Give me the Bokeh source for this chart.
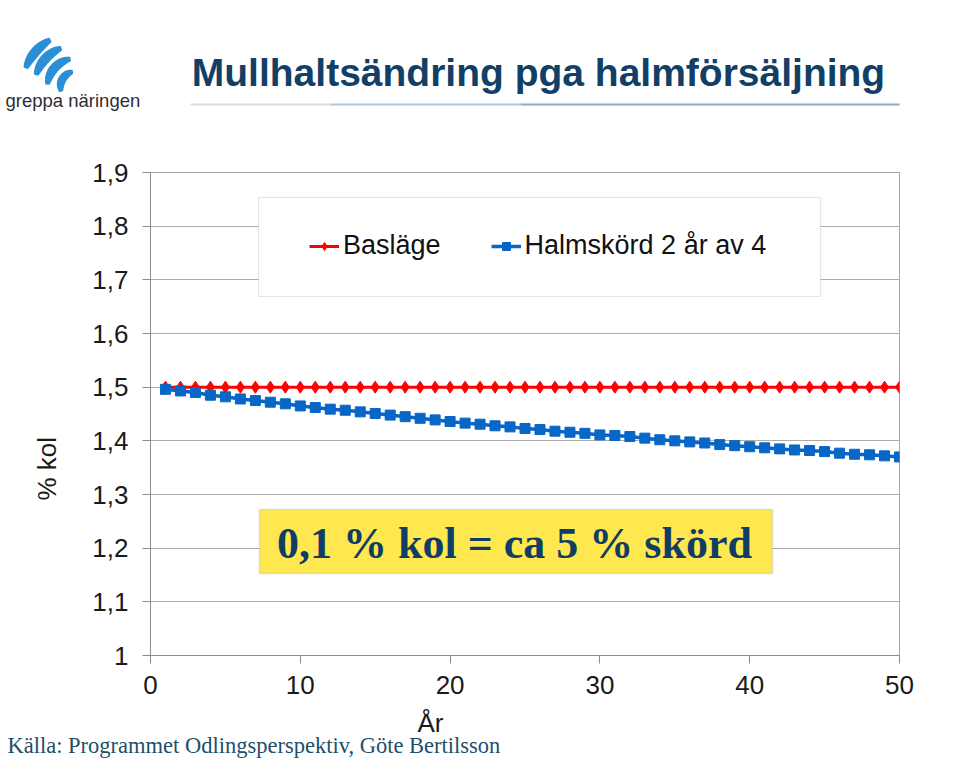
import numpy as np
from bokeh.plotting import figure
from bokeh.layouts import column
from bokeh.models import (Range1d, FixedTicker, Label, BoxAnnotation, Title,
                          Legend, LegendItem)
from bokeh.embed import file_html
from bokeh.resources import INLINE

# ---------------- data ----------------
years = list(range(1, 51))
baslage = [1.5] * 50
halmskord = [1.496, 1.493, 1.490, 1.485, 1.482, 1.478, 1.475, 1.472, 1.469, 1.465,
             1.462, 1.459, 1.457, 1.454, 1.451, 1.448, 1.445, 1.442, 1.439, 1.436,
             1.433, 1.431, 1.428, 1.426, 1.423, 1.421, 1.418, 1.416, 1.414, 1.411,
             1.410, 1.408, 1.405, 1.402, 1.400, 1.398, 1.396, 1.393, 1.391, 1.389,
             1.387, 1.385, 1.383, 1.382, 1.380, 1.377, 1.375, 1.374, 1.372, 1.370]
series_names = ["Basläge", "Halmskörd 2 år av 4"]
y_ticks = [1.0, 1.1, 1.2, 1.3, 1.4, 1.5, 1.6, 1.7, 1.8, 1.9]
y_tick_labels = ["1", "1,1", "1,2", "1,3", "1,4", "1,5", "1,6", "1,7", "1,8", "1,9"]
x_ticks = [0, 10, 20, 30, 40, 50]
x_tick_labels = ["0", "10", "20", "30", "40", "50"]

title_text = "Mullhaltsändring pga halmförsäljning"
note_text = "0,1 % kol = ca 5 % skörd"
source_text = "Källa: Programmet Odlingsperspektiv, Göte Bertilsson"
logo_text = "greppa näringen"
x_label = "År"
y_label = "% kol"

# ---------------- layout ----------------
W, H = 959, 762
HEAD = 130                      # header strip (title + logo)
FOOT_TOP = 707                  # footer strip (x title + source) starts here
FL, FR, FT, FB = 150, 899, 172, 655   # frame edges in page pixels
X0, X1, Y0, Y1 = 0, 50, 1.0, 1.9


def px2x(px):
    return X0 + (px - FL) / (FR - FL) * (X1 - X0)


def py2y(py):
    return Y0 + (FB - py) / (FB - FT) * (Y1 - Y0)


def pixel_strip(h):
    f = figure(width=W, height=h, output_backend="svg", toolbar_location=None,
               x_range=Range1d(0, W), y_range=Range1d(h, 0),
               x_axis_location=None, y_axis_location=None,
               min_border=0, min_border_left=0, min_border_right=0,
               min_border_top=0, min_border_bottom=0)
    f.grid.visible = False
    f.outline_line_color = None
    f.background_fill_color = "white"
    f.border_fill_color = "white"
    return f


# ---------- header ----------
hd = pixel_strip(HEAD)
hd.add_layout(Label(x=538, y=72, text=title_text, text_align="center",
                    text_baseline="middle", text_font="Liberation Sans",
                    text_font_style="bold", text_font_size="39px", text_color="#123F66"))
segs = [(190, 330, "#D5DEE6"), (330, 520, "#B4C5D3"), (520, 899, "#8FA9BE")]
for x_a, x_b, c in segs:
    hd.line([x_a, x_b], [104, 104], line_color=c, line_width=2)

hd.add_layout(Label(x=5, y=100, text=logo_text, text_align="left",
                    text_baseline="middle", text_font="Liberation Sans",
                    text_font_size="18.5px", text_color="#2E2E2E"))
cx, cy = 75, 86
xs_all, ys_all = [], []
for r, a0, a1, th in ((53, 118, 160, 10), (41, 110, 164, 10), (28, 100, 176, 9.5), (15, 100, 200, 8.5)):
    ang = np.radians(np.linspace(a0, a1, 30))
    taper = np.sin(np.linspace(0.2, np.pi - 0.2, 30)) ** 0.5
    ro = r + th / 2 * taper
    ri = r - th / 2 * taper
    xs_all.append(list(np.concatenate([cx + ro * np.cos(ang), (cx + ri * np.cos(ang))[::-1]])))
    ys_all.append(list(np.concatenate([cy - ro * np.sin(ang), (cy - ri * np.sin(ang))[::-1]])))
hd.patches(xs_all, ys_all, fill_color="#2A8FD4", line_color=None)

# ---------- footer ----------
FH = H - FOOT_TOP
ft = pixel_strip(FH)
ft.add_layout(Label(x=430, y=722 - FOOT_TOP, text=x_label, text_align="center",
                    text_baseline="middle", text_font="Liberation Sans",
                    text_font_size="26px", text_color="#1a1a1a"))
ft.add_layout(Label(x=7, y=745 - FOOT_TOP, text=source_text, text_align="left",
                    text_baseline="middle", text_font="Liberation Serif",
                    text_font_size="22.5px", text_color="#1E4F6A"))

# ---------- main chart ----------
MH = FOOT_TOP - HEAD
p = figure(width=W, height=MH, output_backend="svg", toolbar_location=None,
           x_range=Range1d(X0, X1), y_range=Range1d(Y0, Y1),
           min_border_left=FL, min_border_right=W - FR,
           min_border_top=FT - HEAD, min_border_bottom=FOOT_TOP - FB)
p.background_fill_color = "white"
p.border_fill_color = "white"
p.outline_line_color = "#A6A6A6"
p.outline_line_width = 1

for fig in (hd, p, ft):
    if "frame_align" in fig.properties():
        fig.frame_align = False

AX = "#8C8C8C"
for ax, ticks, labels in ((p.yaxis[0], y_ticks, y_tick_labels), (p.xaxis[0], x_ticks, x_tick_labels)):
    ax.ticker = FixedTicker(ticks=ticks)
    ax.major_label_overrides = {t: l for t, l in zip(ticks, labels)}
    ax.axis_line_color = AX
    ax.major_tick_line_color = AX
    ax.major_tick_out = 8
    ax.major_tick_in = 0
    ax.minor_tick_line_color = None
    ax.major_label_text_font = "Liberation Sans"
    ax.major_label_text_font_size = "26px"
    ax.major_label_text_color = "#1a1a1a"
p.yaxis.major_label_standoff = 14
p.xaxis.major_label_standoff = 12

p.xgrid.grid_line_color = None
p.ygrid.grid_line_color = "#ACACAC"
p.ygrid.grid_line_width = 1

# legend box (white, covers gridlines)
p.add_layout(BoxAnnotation(left=px2x(258), right=px2x(820), top=py2y(197), bottom=py2y(296),
                           fill_color="white", fill_alpha=1.0,
                           line_color="#A6A6A6", line_width=1.2, level="underlay"))

# yellow note box
p.add_layout(BoxAnnotation(left=px2x(259), right=px2x(772), top=py2y(509), bottom=py2y(573),
                           fill_color="#FFE84F", fill_alpha=1.0,
                           line_color="#9DB6B3", line_width=1.5, level="underlay"))

# series
r_line = p.line(years, baslage, line_color="#FF0000", line_width=3)
r_pts = p.scatter(years, baslage, marker="diamond", size=12, fill_color="#FF0000",
                  line_color="#FF0000")
b_line = p.line(years, halmskord, line_color="#0866C6", line_width=3.5)
b_pts = p.scatter(years, halmskord, marker="square", size=10, fill_color="#0866C6",
                  line_color="#0866C6")

legend = Legend(items=[LegendItem(label=series_names[0], renderers=[r_line, r_pts]),
                       LegendItem(label=series_names[1], renderers=[b_line, b_pts])],
                orientation="horizontal", location=(159, 394),
                label_text_font="Liberation Sans", label_text_font_size="27px",
                label_text_color="#111111",
                glyph_width=30, glyph_height=20, label_standoff=4, spacing=50,
                padding=0, margin=0, border_line_color=None, background_fill_alpha=0)
p.add_layout(legend)

# note text
p.add_layout(Label(x=px2x(514), y=py2y(543), text=note_text, text_align="center",
                   text_baseline="middle", text_font="Liberation Serif",
                   text_font_style="bold", text_font_size="44px", text_color="#0F3D63"))

# y title as left side-panel title
p.add_layout(Title(text=y_label, align="left", offset=155, standoff=55,
                   text_font="Liberation Sans", text_font_size="26px",
                   text_font_style="normal", text_color="#1a1a1a"), "left")

layout = column(hd, p, ft, spacing=0)
open("out.html", "w").write(file_html(layout, INLINE))
